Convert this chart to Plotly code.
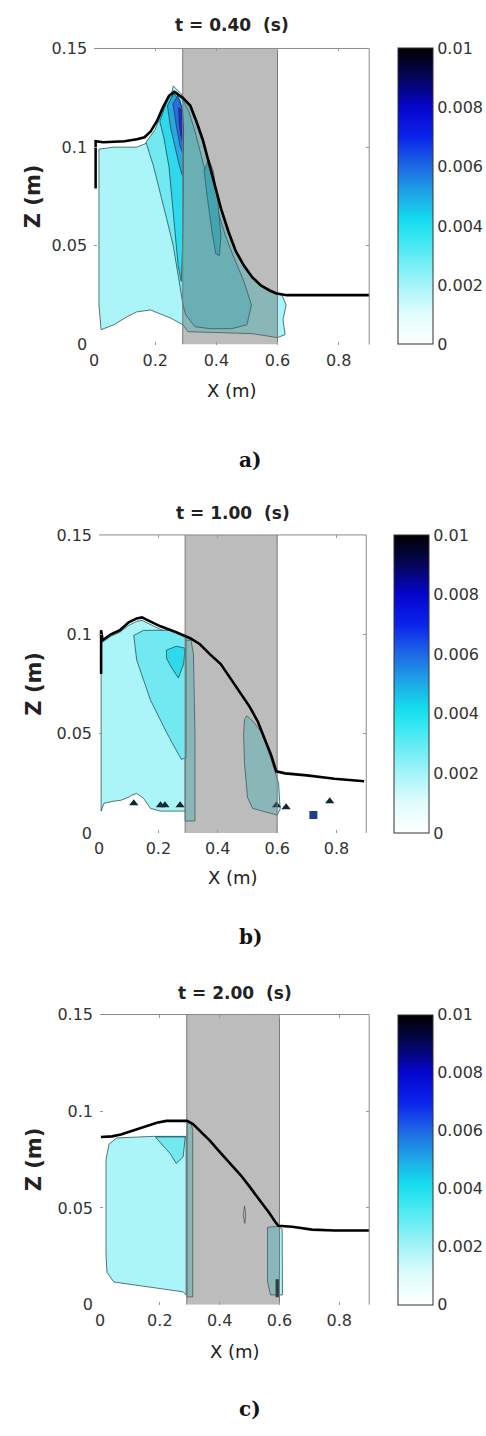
import plotly.graph_objects as go

# ---------------- axes / labels ----------------
X_RANGE = [0, 0.9]
Z_RANGE = [0, 0.15]
X_TICKS = [0, 0.2, 0.4, 0.6, 0.8]
X_TICK_LABELS = ["0", "0.2", "0.4", "0.6", "0.8"]
Z_TICKS = [0, 0.05, 0.1, 0.15]
Z_TICK_LABELS = ["0", "0.05", "0.1", "0.15"]
CB_TICKS = [0, 0.002, 0.004, 0.006, 0.008, 0.01]
CB_LABELS = ["0", "0.002", "0.004", "0.006", "0.008", "0.01"]
TIMES = ["0.40", "1.00", "2.00"]
PANEL_LETTERS = ["a)", "b)", "c)"]
STRUCTURE_X = [0.29, 0.6]   # porous structure extent (m)

# ---------------- panel a : t = 0.40 s ----------------
A_SURF_X = [0.005, 0.005, 0.03, 0.10, 0.14, 0.165, 0.185, 0.205, 0.225, 0.245, 0.262, 0.29, 0.315, 0.335, 0.356, 0.375, 0.395, 0.415, 0.44, 0.463, 0.49, 0.518, 0.545, 0.573, 0.595, 0.63, 0.9]
A_SURF_Z = [0.079, 0.103, 0.1025, 0.103, 0.104, 0.105, 0.108, 0.113, 0.12, 0.126, 0.128, 0.125, 0.121, 0.113, 0.1035, 0.092, 0.08, 0.069, 0.057, 0.0475, 0.04, 0.034, 0.03, 0.0275, 0.026, 0.025, 0.025]

A_L1_X = [0.016, 0.016, 0.065, 0.139, 0.172, 0.2, 0.227, 0.252, 0.259, 0.285, 0.314, 0.335, 0.356, 0.375, 0.395, 0.415, 0.44, 0.463, 0.49, 0.518, 0.545, 0.573, 0.595, 0.615, 0.628, 0.618, 0.625, 0.6, 0.518, 0.405, 0.307, 0.291, 0.249, 0.184, 0.139, 0.107, 0.065, 0.023, 0.016]
A_L1_Z = [0.079, 0.099, 0.1, 0.1, 0.102, 0.1065, 0.1185, 0.126, 0.131, 0.127, 0.12, 0.112, 0.1025, 0.091, 0.079, 0.068, 0.056, 0.0467, 0.0393, 0.0333, 0.0295, 0.027, 0.0255, 0.025, 0.02, 0.0125, 0.005, 0.0035, 0.0055, 0.006, 0.0065, 0.01, 0.0135, 0.0175, 0.0165, 0.014, 0.01, 0.0075, 0.02]

A_L2_X = [0.17, 0.2, 0.228, 0.252, 0.27, 0.29, 0.31, 0.33, 0.36, 0.40, 0.43, 0.455, 0.49, 0.515, 0.5, 0.45, 0.38, 0.33, 0.30, 0.291, 0.275, 0.259, 0.237, 0.217, 0.195]
A_L2_Z = [0.1025, 0.109, 0.12, 0.1275, 0.128, 0.124, 0.118, 0.108, 0.09, 0.07, 0.055, 0.045, 0.032, 0.02, 0.01, 0.008, 0.008, 0.009, 0.015, 0.02, 0.035, 0.05, 0.064, 0.0765, 0.09]

A_L3_X = [0.215, 0.24, 0.26, 0.28, 0.29, 0.292, 0.29, 0.285, 0.275, 0.26, 0.245, 0.228]
A_L3_Z = [0.113, 0.124, 0.127, 0.123, 0.116, 0.08, 0.05, 0.032, 0.04, 0.065, 0.09, 0.105]
A_L3T_X = [0.36, 0.375, 0.39, 0.405, 0.415, 0.41, 0.398, 0.385, 0.37]
A_L3T_Z = [0.088, 0.094, 0.088, 0.072, 0.055, 0.045, 0.046, 0.058, 0.075]
A_L4_X = [0.24, 0.26, 0.28, 0.29, 0.292, 0.29, 0.28, 0.265, 0.25]
A_L4_Z = [0.121, 0.127, 0.124, 0.118, 0.10, 0.085, 0.09, 0.1, 0.11]
A_L5_X = [0.258, 0.274, 0.287, 0.293, 0.291, 0.282, 0.27, 0.262]
A_L5_Z = [0.122, 0.126, 0.12, 0.108, 0.097, 0.1, 0.11, 0.117]
A_L6_X = [0.277, 0.286, 0.291, 0.289, 0.283, 0.278]
A_L6_Z = [0.12, 0.119, 0.11, 0.103, 0.106, 0.113]

# ---------------- panel b : t = 1.00 s ----------------
B_SURF_X = [0.007, 0.007, 0.012, 0.04, 0.07, 0.1, 0.127, 0.145, 0.165, 0.207, 0.26, 0.307, 0.34, 0.373, 0.41, 0.44, 0.475, 0.507, 0.535, 0.56, 0.58, 0.597, 0.627, 0.7, 0.793, 0.893]
B_SURF_Z = [0.080, 0.102, 0.097, 0.1, 0.102, 0.106, 0.108, 0.1085, 0.107, 0.104, 0.101, 0.098, 0.095, 0.090, 0.085, 0.0785, 0.071, 0.0636, 0.056, 0.047, 0.039, 0.031, 0.030, 0.029, 0.0273, 0.026]

B_L1_X = [0.007, 0.012, 0.04, 0.07, 0.1, 0.127, 0.145, 0.165, 0.207, 0.26, 0.292, 0.292, 0.207, 0.173, 0.15, 0.127, 0.11, 0.1, 0.073, 0.05, 0.017, 0.007]
B_L1_Z = [0.096, 0.096, 0.099, 0.101, 0.1045, 0.1065, 0.107, 0.1055, 0.1025, 0.0995, 0.097, 0.011, 0.011, 0.0124, 0.0174, 0.0199, 0.019, 0.018, 0.0164, 0.016, 0.015, 0.011]
B_L1S_X = [0.29, 0.31, 0.318, 0.323, 0.323, 0.29]
B_L1S_Z = [0.097, 0.097, 0.09, 0.05, 0.006, 0.006]
B_L1R_X = [0.49, 0.497, 0.52, 0.545, 0.565, 0.582, 0.597, 0.605, 0.61, 0.6, 0.55, 0.517, 0.5, 0.49, 0.487]
B_L1R_Z = [0.057, 0.059, 0.056, 0.051, 0.044, 0.036, 0.029, 0.025, 0.012, 0.009, 0.011, 0.0124, 0.018, 0.035, 0.05]
B_L2_X = [0.117, 0.127, 0.173, 0.227, 0.277, 0.293, 0.293, 0.24, 0.15]
B_L2_Z = [0.0994, 0.087, 0.067, 0.0507, 0.037, 0.038, 0.099, 0.102, 0.102]
B_L3_X = [0.227, 0.26, 0.29, 0.285, 0.267, 0.243, 0.227]
B_L3_Z = [0.092, 0.094, 0.093, 0.085, 0.078, 0.0835, 0.088]
B_SPIKE_X = [0.117, 0.207, 0.222, 0.273, 0.598, 0.63, 0.777]
B_SPIKE_Z = [0.015, 0.014, 0.014, 0.014, 0.014, 0.013, 0.016]
B_PATCH_X = [0.722]
B_PATCH_Z = [0.009]

# ---------------- panel c : t = 2.00 s ----------------
C_SURF_X = [0.003, 0.04, 0.07, 0.11, 0.146, 0.19, 0.222, 0.291, 0.311, 0.34, 0.368, 0.40, 0.434, 0.47, 0.5, 0.535, 0.566, 0.585, 0.596, 0.642, 0.709, 0.785, 0.9]
C_SURF_Z = [0.0867, 0.087, 0.088, 0.09, 0.092, 0.094, 0.095, 0.095, 0.0934, 0.089, 0.0847, 0.079, 0.073, 0.067, 0.061, 0.054, 0.0474, 0.043, 0.0408, 0.0403, 0.0388, 0.0383, 0.0383]

C_L1_X = [0.02, 0.03, 0.056, 0.179, 0.288, 0.288, 0.278, 0.123, 0.046, 0.023, 0.02]
C_L1_Z = [0.075, 0.083, 0.0862, 0.087, 0.087, 0.005, 0.0066, 0.0102, 0.0117, 0.0168, 0.027]
C_L1S_X = [0.291, 0.305, 0.31, 0.31, 0.291]
C_L1S_Z = [0.094, 0.094, 0.09, 0.004, 0.004]
C_L1R_X = [0.56, 0.596, 0.609, 0.61, 0.57, 0.56]
C_L1R_Z = [0.040, 0.0405, 0.039, 0.005, 0.005, 0.012]
C_L2_X = [0.185, 0.285, 0.278, 0.255, 0.235]
C_L2_Z = [0.0867, 0.0867, 0.0765, 0.073, 0.078]
C_OVAL_X = [0.483, 0.487, 0.484, 0.479]
C_OVAL_Z = [0.051, 0.047, 0.042, 0.046]
C_DARK_X = [0.588, 0.598, 0.598, 0.588]
C_DARK_Z = [0.004, 0.004, 0.013, 0.013]

# ---------------- styles ----------------
W, H = 486, 1436
PLOT_BOX = [(90, 368, 40, 340), (95, 365, 533, 835), (96, 368, 1019, 1313)]
CB_LEFT = [397, 393, 397]
TITLE_Y = [16, 511, 997]
XLABEL_Y = [387, 880, 1360]
LETTER_Y = [457, 940, 1419]

C1 = "#abf5f8"
C2 = "#72e9f1"
C3 = "#2fd8ea"
C4 = "#2aa6e0"
C5 = "#2f6be0"
C6 = "#1a2fcf"
DARK = "#0b2733"
EDGE = "rgba(20,55,60,0.85)"
GRAY = "rgba(95,95,95,0.42)"
FONT = "DejaVu Sans"

COLORSCALE = [
    [0.0, "rgb(255,255,255)"],
    [0.1, "rgb(225,252,253)"],
    [0.2, "rgb(165,244,248)"],
    [0.35, "rgb(60,232,242)"],
    [0.42, "rgb(20,220,238)"],
    [0.5, "rgb(30,170,230)"],
    [0.6, "rgb(30,105,228)"],
    [0.7, "rgb(10,35,235)"],
    [0.8, "rgb(5,5,205)"],
    [0.9, "rgb(5,5,90)"],
    [1.0, "rgb(0,0,0)"],
]

fig = go.Figure()


def region(xs, zs, color, ax, width=0.8):
    fig.add_trace(go.Scatter(
        x=list(xs) + [xs[0]], y=list(zs) + [zs[0]], mode="lines",
        fill="toself", fillcolor=color, line=dict(color=EDGE, width=width),
        hoverinfo="skip", xaxis=ax[0], yaxis=ax[1]))


panels = [
    dict(regions=[(A_L1_X, A_L1_Z, C1), (A_L2_X, A_L2_Z, C2), (A_L3_X, A_L3_Z, C3),
                  (A_L3T_X, A_L3T_Z, C3), (A_L4_X, A_L4_Z, C4), (A_L5_X, A_L5_Z, C5),
                  (A_L6_X, A_L6_Z, C6)],
         surf=(A_SURF_X, A_SURF_Z)),
    dict(regions=[(B_L1_X, B_L1_Z, C1), (B_L1S_X, B_L1S_Z, C1), (B_L1R_X, B_L1R_Z, C1),
                  (B_L2_X, B_L2_Z, C2), (B_L3_X, B_L3_Z, C3)],
         surf=(B_SURF_X, B_SURF_Z)),
    dict(regions=[(C_L1_X, C_L1_Z, C1), (C_L1S_X, C_L1S_Z, C1), (C_L1R_X, C_L1R_Z, C1),
                  (C_L2_X, C_L2_Z, C2), (C_OVAL_X, C_OVAL_Z, "rgba(0,0,0,0)"),
                  (C_DARK_X, C_DARK_Z, DARK)],
         surf=(C_SURF_X, C_SURF_Z)),
]

annotations = []
shapes = []
for i, p in enumerate(panels):
    sfx = "" if i == 0 else str(i + 1)
    ax = ("x" + sfx, "y" + sfx)
    x0, x1, y0, y1 = PLOT_BOX[i]
    for xs, zs, col in p["regions"]:
        region(xs, zs, col, ax)
    if i == 1:
        fig.add_trace(go.Scatter(x=B_SPIKE_X, y=B_SPIKE_Z, mode="markers",
                                 marker=dict(symbol="triangle-up", size=8, color=DARK),
                                 hoverinfo="skip", xaxis=ax[0], yaxis=ax[1]))
        fig.add_trace(go.Scatter(x=B_PATCH_X, y=B_PATCH_Z, mode="markers",
                                 marker=dict(symbol="square", size=8, color="#1d3f8a"),
                                 hoverinfo="skip", xaxis=ax[0], yaxis=ax[1]))
    # porous structure (semi-transparent gray)
    sx = [STRUCTURE_X[0], STRUCTURE_X[1], STRUCTURE_X[1], STRUCTURE_X[0], STRUCTURE_X[0]]
    sz = [Z_RANGE[0], Z_RANGE[0], Z_RANGE[1], Z_RANGE[1], Z_RANGE[0]]
    fig.add_trace(go.Scatter(x=sx, y=sz, mode="lines", fill="toself", fillcolor=GRAY,
                             line=dict(width=0), hoverinfo="skip", xaxis=ax[0], yaxis=ax[1]))
    for xv in STRUCTURE_X:
        fig.add_trace(go.Scatter(x=[xv, xv], y=Z_RANGE, mode="lines",
                                 line=dict(color="#7a7a7a", width=1),
                                 hoverinfo="skip", xaxis=ax[0], yaxis=ax[1]))
    # free surface
    fig.add_trace(go.Scatter(x=p["surf"][0], y=p["surf"][1], mode="lines",
                             line=dict(color="black", width=2.6),
                             hoverinfo="skip", xaxis=ax[0], yaxis=ax[1]))
    # colorbar
    fig.add_trace(go.Scatter(
        x=[None], y=[None], mode="markers", xaxis=ax[0], yaxis=ax[1], hoverinfo="skip",
        marker=dict(color=[0], colorscale=COLORSCALE, cmin=CB_TICKS[0], cmax=CB_TICKS[-1],
                    showscale=True,
                    colorbar=dict(x=CB_LEFT[i] / W, xanchor="left", y=1 - (y0 + y1) / 2 / H,
                                  yanchor="middle", len=(y1 - y0) / H, lenmode="fraction",
                                  thickness=35, thicknessmode="pixels", xpad=0, ypad=0,
                                  outlinewidth=1, outlinecolor="#333",
                                  tickvals=CB_TICKS, ticktext=CB_LABELS, ticks="",
                                  tickfont=dict(family=FONT, size=16, color="#333")))))

    fig.layout["xaxis" + sfx] = dict(
        domain=[x0 / W, x1 / W], range=X_RANGE, anchor=ax[1], tickvals=X_TICKS,
        ticktext=X_TICK_LABELS, ticks="inside", ticklen=3, tickcolor="#999",
        showgrid=False, zeroline=False, showline=False, mirror="ticks",
        tickfont=dict(family=FONT, size=16, color="#333"), ticklabelstandoff=4)
    fig.layout["yaxis" + sfx] = dict(
        domain=[1 - y1 / H, 1 - y0 / H], range=Z_RANGE, anchor=ax[0], tickvals=Z_TICKS,
        ticktext=Z_TICK_LABELS, ticks="inside", ticklen=3, tickcolor="#999",
        showgrid=False, zeroline=False, showline=False, mirror="ticks",
        tickfont=dict(family=FONT, size=16, color="#333"), ticklabelstandoff=6)

    shapes.append(dict(type="line", xref="paper", yref="paper", x0=x0 / W, x1=x1 / W,
                       y0=1 - y0 / H, y1=1 - y0 / H, line=dict(color="#8a8a8a", width=1)))
    shapes.append(dict(type="line", xref="paper", yref="paper", x0=x1 / W, x1=x1 / W,
                       y0=1 - y0 / H, y1=1 - y1 / H, line=dict(color="#8a8a8a", width=1)))

    cx = (x0 + x1) / 2 / W
    annotations.append(dict(text="<b>t = " + TIMES[i] + "\u00a0\u00a0(s)</b>", x=cx,
                            y=1 - TITLE_Y[i] / H, xref="paper", yref="paper",
                            showarrow=False, xanchor="center", yanchor="middle",
                            font=dict(family=FONT, size=17, color="#222")))
    annotations.append(dict(text="X (m)", x=cx, y=1 - XLABEL_Y[i] / H, xref="paper",
                            yref="paper", showarrow=False, xanchor="center", yanchor="middle",
                            font=dict(family=FONT, size=18, color="#222")))
    annotations.append(dict(text="<b>Z (m)</b>", x=29 / W, y=1 - (y0 + y1) / 2 / H,
                            xref="paper", yref="paper", showarrow=False, textangle=-90,
                            xanchor="center", yanchor="middle",
                            font=dict(family=FONT, size=21, color="#222")))
    annotations.append(dict(text="<b>" + PANEL_LETTERS[i] + "</b>", x=248 / W,
                            y=1 - LETTER_Y[i] / H, xref="paper", yref="paper",
                            showarrow=False, xanchor="center", yanchor="middle",
                            font=dict(family="DejaVu Serif", size=20, color="#111")))

fig.update_layout(width=W, height=H, margin=dict(l=0, r=0, t=0, b=0),
                  paper_bgcolor="white", plot_bgcolor="white", showlegend=False,
                  annotations=annotations, shapes=shapes)
fig.write_html("out.html")
